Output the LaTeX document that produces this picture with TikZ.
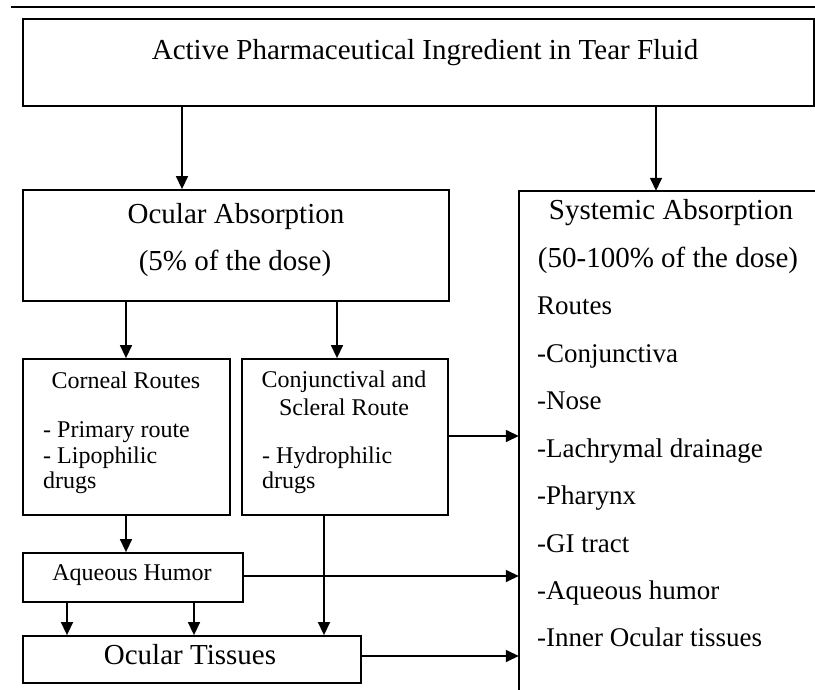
\documentclass[tikz,border=0pt]{standalone}
\usepackage{fontspec}
\setmainfont{Liberation Serif}
\usetikzlibrary{arrows.meta}
\tikzset{
  boxnode/.style={draw, line width=1.8pt, rectangle, inner sep=0pt},
  txt/.style={inner sep=0pt, anchor=base},
  ltxt/.style={inner sep=0pt, anchor=base west},
  arr/.style={line width=1.5pt, -{Triangle[length=13pt,width=12pt]}},
  big/.style={font=\fontsize{29}{33}\selectfont},
  mid/.style={font=\fontsize{27}{31}\selectfont},
  small/.style={font=\fontsize{24}{26}\selectfont}
}
\begin{document}
\begin{tikzpicture}[x=1pt,y=-1pt]
\useasboundingbox (0,0) rectangle (815,690);
\fill[white] (0,0) rectangle (815,690);
% top rule
\coordinate (r1) at (11,7);
\coordinate (r2) at (815,7);
\draw[line width=1.5pt] (r1) -- (r2);
% boxes
\node[boxnode, minimum width=791pt, minimum height=87pt] (top) at (418.5,62.5) {};
\node[boxnode, minimum width=426pt, minimum height=111pt] (ocular) at (236,245.5) {};
\node[inner sep=0pt, minimum width=302pt, minimum height=510pt] (sys) at (670,446) {};
\draw[line width=1.8pt] (sys.south west) -- (sys.north west) -- (sys.north east);
\node[boxnode, minimum width=207pt, minimum height=156pt] (corneal) at (126.5,437) {};
\node[boxnode, minimum width=206pt, minimum height=156pt] (conj) at (345,437) {};
\node[boxnode, minimum width=220pt, minimum height=49pt] (aqueous) at (133,577.5) {};
\node[boxnode, minimum width=338pt, minimum height=47pt] (tissues) at (192,659.5) {};
% texts
\node[txt, big] (t1) at (425,60) {Active Pharmaceutical Ingredient in Tear Fluid};
\node[txt, big] (t2) at (236,224) {Ocular Absorption};
\node[txt, big] (t3) at (235,270) {(5\% of the dose)};
\node[txt, big] (t4) at (671,220) {Systemic Absorption};
\node[txt, big] (t5) at (668,268) {(50-100\% of the dose)};
\node[ltxt, mid] (s1) at (537,315) {Routes};
\node[ltxt, mid] (s2) at (537,362.4) {-Conjunctiva};
\node[ltxt, mid] (s3) at (537,409.8) {-Nose};
\node[ltxt, mid] (s4) at (537,457.2) {-Lachrymal drainage};
\node[ltxt, mid] (s5) at (537,504.6) {-Pharynx};
\node[ltxt, mid] (s6) at (537,552) {-GI tract};
\node[ltxt, mid] (s7) at (537,599.4) {-Aqueous humor};
\node[ltxt, mid] (s8) at (537,646.8) {-Inner Ocular tissues};
\node[txt, small] (c1) at (126,388) {Corneal Routes};
\node[ltxt, small] (c2) at (43,437) {- Primary route};
\node[ltxt, small] (c3) at (43,463) {- Lipophilic};
\node[ltxt, small] (c4) at (43,488) {drugs};
\node[txt, small] (j1) at (344,387) {Conjunctival and};
\node[txt, small] (j2) at (344,415) {Scleral Route};
\node[ltxt, small] (j3) at (262,463) {- Hydrophilic};
\node[ltxt, small] (j4) at (262,488) {drugs};
\node[txt, small] (a1) at (132,580) {Aqueous Humor};
\node[txt, big] (o1) at (190,664) {Ocular Tissues};
% connector guides
\coordinate (xA) at (182,0);
\coordinate (xB) at (656,0);
\coordinate (xC) at (126,0);
\coordinate (xD) at (337,0);
\coordinate (xE) at (67,0);
\coordinate (xF) at (194,0);
\coordinate (xG) at (324,0);
\coordinate (yA) at (0,436);
\coordinate (yB) at (0,576);
\coordinate (yC) at (0,656);
% connectors
\draw[arr] (top.south -| xA) -- (ocular.north -| xA);
\draw[arr] (top.south -| xB) -- (sys.north -| xB);
\draw[arr] (ocular.south -| xC) -- (corneal.north -| xC);
\draw[arr] (ocular.south -| xD) -- (conj.north -| xD);
\draw[arr] (conj.east |- yA) -- (sys.west |- yA);
\draw[arr] (corneal.south -| xC) -- (aqueous.north -| xC);
\draw[arr] (aqueous.east |- yB) -- (sys.west |- yB);
\draw[arr] (aqueous.south -| xE) -- (tissues.north -| xE);
\draw[arr] (aqueous.south -| xF) -- (tissues.north -| xF);
\draw[arr] (conj.south -| xG) -- (tissues.north -| xG);
\draw[arr] (tissues.east |- yC) -- (sys.west |- yC);
\end{tikzpicture}
\end{document}
